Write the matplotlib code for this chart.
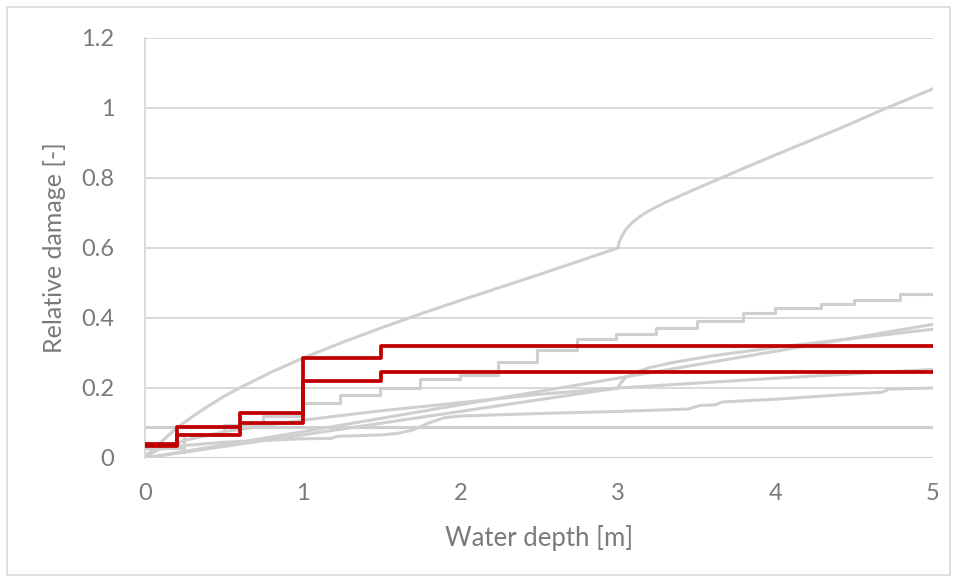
import matplotlib
matplotlib.use("Agg")
import matplotlib.pyplot as plt
from matplotlib.patches import Rectangle

plt.rcParams['font.family'] = ['Lato', 'DejaVu Sans']

# Step-wise damage functions (highlighted)
red_edges = [0.0, 0.2, 0.6, 1.0, 1.5, 5.0]
red_upper = [0.04, 0.088, 0.13, 0.285, 0.32, 0.32]
red_lower = [0.035, 0.065, 0.10, 0.22, 0.245, 0.245]

# Stepwise grey curve
stair_x = [0.0, 0.25, 0.5, 0.75, 1.0, 1.24, 1.49, 1.745, 2.0, 2.24, 2.49,
           2.74, 2.99, 3.245, 3.5, 3.795, 4.0, 4.29, 4.5, 4.79, 5.0]
stair_y = [0.03, 0.065, 0.095, 0.12, 0.156, 0.18, 0.2, 0.226, 0.238, 0.275, 0.31,
           0.339, 0.353, 0.372, 0.392, 0.413, 0.428, 0.44, 0.451, 0.47, 0.47]

# Steep curve with kink at 3 m
big_x = [0.0, 0.05, 0.1, 0.2, 0.3, 0.4, 0.5, 0.6, 0.8, 1.0, 1.25, 1.5, 1.75, 2.0,
         2.25, 2.5, 2.75, 3.0, 3.01, 3.03, 3.06, 3.1, 3.15, 3.2, 3.3, 3.4, 3.5,
         3.63, 3.8, 4.0, 4.2, 4.4, 4.68, 5.0]
big_y = [0.0, 0.025, 0.045, 0.085, 0.118, 0.148, 0.176, 0.2, 0.245, 0.285, 0.33,
         0.372, 0.412, 0.45, 0.487, 0.524, 0.562, 0.6, 0.618, 0.638, 0.658, 0.676,
         0.693, 0.707, 0.73, 0.75, 0.77, 0.795, 0.828, 0.866, 0.903, 0.94, 0.995, 1.055]

# Near-linear curve
lin_x = [0.0, 1.0, 2.0, 3.0, 4.0, 5.0]
lin_y = [0.0, 0.075, 0.152, 0.228, 0.305, 0.382]

# Linear curve with kink at 3 m
kink_x = [0.0, 1.0, 2.0, 3.0, 3.02, 3.05, 3.1, 3.2, 3.35, 3.6, 4.0, 4.5, 5.0]
kink_y = [0.0, 0.066, 0.133, 0.2, 0.215, 0.23, 0.243, 0.258, 0.273, 0.292, 0.316,
          0.342, 0.368]

# Concave curve
conc_x = [0.0, 0.25, 0.5, 1.0, 1.5, 2.0, 2.5, 3.0, 4.0, 5.0]
conc_y = [0.01, 0.05, 0.075, 0.108, 0.135, 0.158, 0.182, 0.2, 0.228, 0.253]

# Low curve with small steps
low_x = [0.0, 0.1, 0.5, 1.0, 1.18, 1.22, 1.5, 1.6, 1.7, 1.8, 1.9, 2.0, 2.5, 3.0,
         3.45, 3.52, 3.62, 3.66, 4.0, 4.5, 4.68, 4.72, 5.0]
low_y = [0.0, 0.03, 0.045, 0.055, 0.056, 0.062, 0.066, 0.07, 0.08, 0.1, 0.115, 0.12,
         0.127, 0.133, 0.14, 0.15, 0.152, 0.16, 0.168, 0.183, 0.188, 0.197, 0.2]

# Constant curves
flat_x = [0.0, 5.0]
flat_y = [0.09, 0.09]
zero_x = [0.1, 5.0]
zero_y = [0.0, 0.0]

grey = '#d0cfcf'
red = '#c00000'
text_grey = '#7a7a7a'

fig = plt.figure(figsize=(9.58, 5.81), dpi=100)
fig.patches.append(Rectangle((7 / 958, 6 / 581), 943 / 958, 568 / 581,
                             transform=fig.transFigure, fill=False,
                             edgecolor='#d9d9d9', linewidth=1.2))

ax = fig.add_axes([145 / 958, 1 - 458 / 581, 788 / 958, 420 / 581])

lw_g = 2.2
ax.plot(zero_x, zero_y, color=grey, lw=lw_g, zorder=2)
ax.plot(flat_x, flat_y, color=grey, lw=lw_g, zorder=2)
ax.plot(low_x, low_y, color=grey, lw=lw_g, zorder=2)
ax.plot(conc_x, conc_y, color=grey, lw=lw_g, zorder=2)
ax.plot(kink_x, kink_y, color=grey, lw=lw_g, zorder=2)
ax.plot(lin_x, lin_y, color=grey, lw=lw_g, zorder=2)
ax.plot(stair_x, stair_y, color=grey, lw=lw_g, drawstyle='steps-post', zorder=2)
ax.plot(big_x, big_y, color=grey, lw=lw_g, zorder=2)

ax.plot(red_edges, red_lower, color=red, lw=2.7, drawstyle='steps-post', zorder=3)
ax.plot(red_edges, red_upper, color=red, lw=2.7, drawstyle='steps-post', zorder=3)

ax.set_xlim(0, 5)
ax.set_ylim(0, 1.2)
ax.set_xticks([0, 1, 2, 3, 4, 5])
ax.set_xticklabels(['0', '1', '2', '3', '4', '5'])
ax.set_yticks([0, 0.2, 0.4, 0.6, 0.8, 1.0, 1.2])
ax.set_yticklabels(['0', '0.2', '0.4', '0.6', '0.8', '1', '1.2'])

ax.grid(axis='y', color='#d9d9d9', lw=1.4, zorder=1)
ax.set_axisbelow(True)
for s in ['top', 'right', 'bottom']:
    ax.spines[s].set_visible(False)
ax.spines['left'].set_color('#d9d9d9')
ax.spines['left'].set_linewidth(1.4)

ax.tick_params(axis='both', length=0, labelsize=17, labelcolor=text_grey)
ax.tick_params(axis='y', pad=22)
ax.tick_params(axis='x', pad=18)

ax.set_xlabel('Water depth [m]', fontsize=18.5, color=text_grey, labelpad=15)
ax.set_ylabel('Relative damage [-]', fontsize=18, color=text_grey, labelpad=11)

fig.savefig('out.png', dpi=100)
